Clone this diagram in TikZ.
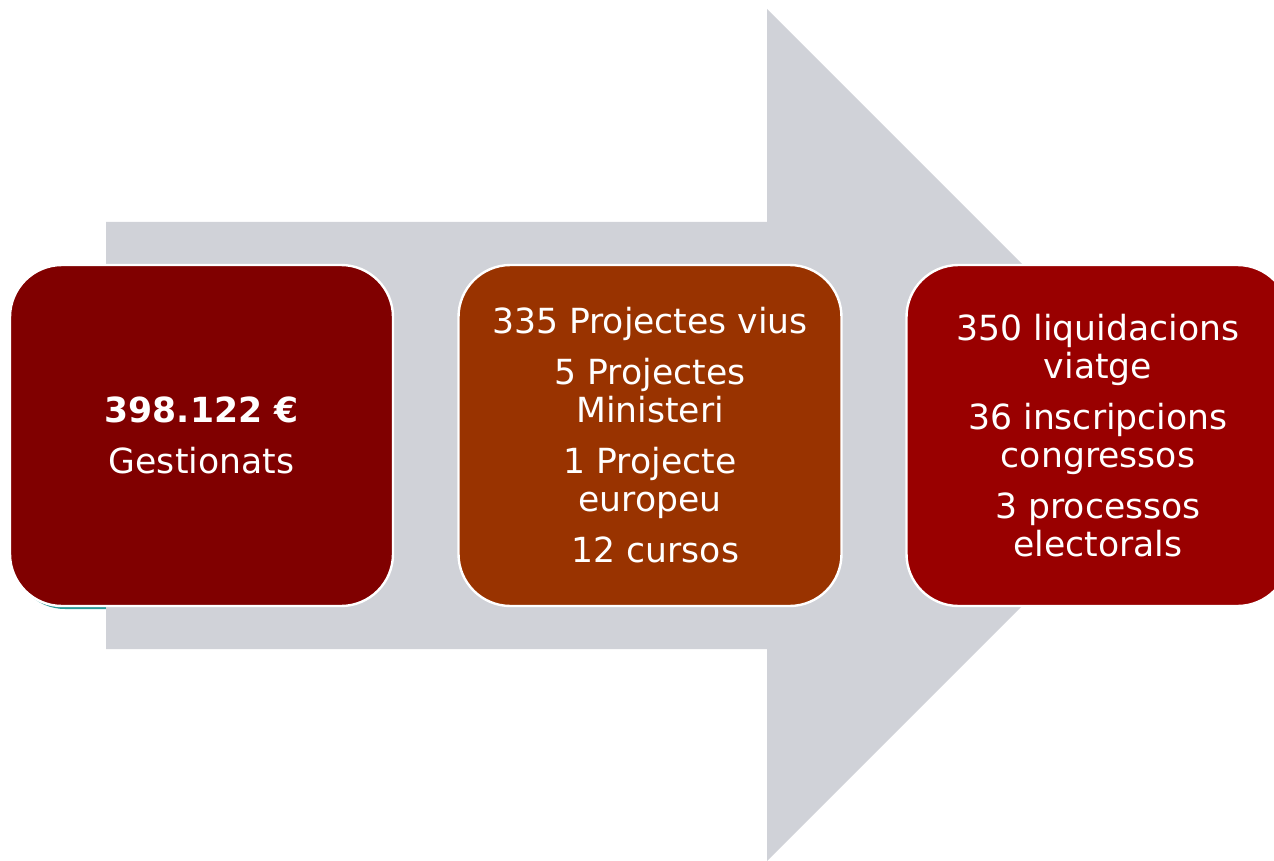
\documentclass[tikz,border=0pt]{standalone}
\usepackage{fontspec}
\setmainfont{DejaVu Sans}
\usepackage{xcolor}
\usepackage{tikz}
\usetikzlibrary{positioning}
\definecolor{arrowgray}{HTML}{D0D2D8}
\definecolor{boxmaroon}{HTML}{800000}
\definecolor{boxrust}{HTML}{993300}
\definecolor{boxred}{HTML}{990000}
\definecolor{shadowteal}{HTML}{2A9A98}
\tikzset{
  infobox/.style={draw=white, line width=1.2pt, rounded corners=26pt,
    minimum width=191.5pt, minimum height=170.5pt, inner sep=0pt,
    align=center, text=white, font=\fontsize{17.3}{19}\selectfont},
}
\newcommand{\gap}{\\[6.5pt]}

\begin{document}
\begin{tikzpicture}[x=0.5pt,y=-0.5pt]
\useasboundingbox (0,0) rectangle (1274,861);
\clip (0,0) rectangle (1274,861);

\coordinate (tailtop) at (106,222);
\coordinate (tailbot) at (106,649);
\coordinate (necktop) at (767,222);
\coordinate (neckbot) at (767,649);
\coordinate (headtop) at (767,9);
\coordinate (headbot) at (767,861);
\coordinate (tip) at (1193,435);

% shadow under the first box
\fill[shadowteal, rounded corners=26pt] (13,268) rectangle (396,609);

\fill[arrowgray] (tailtop) -- (necktop) -- (headtop) -- (tip) -- (headbot) -- (neckbot) -- (tailbot) -- cycle;

\node[infobox, fill=boxmaroon] (gest) at (201.5,435.5) {\textbf{398.122 €}\gap Gestionats};
\node[infobox, fill=boxrust] (proj) at (650,435.5) {335 Projectes vius\gap 5 Projectes\\ Ministeri\gap 1 Projecte\\ europeu\gap \ 12 cursos};
\node[infobox, fill=boxred] (liqu) at (1098,435.5) {350 liquidacions\\ viatge\gap 36 inscripcions\\ congressos\gap 3 processos\\ electorals};
\end{tikzpicture}
\end{document}
